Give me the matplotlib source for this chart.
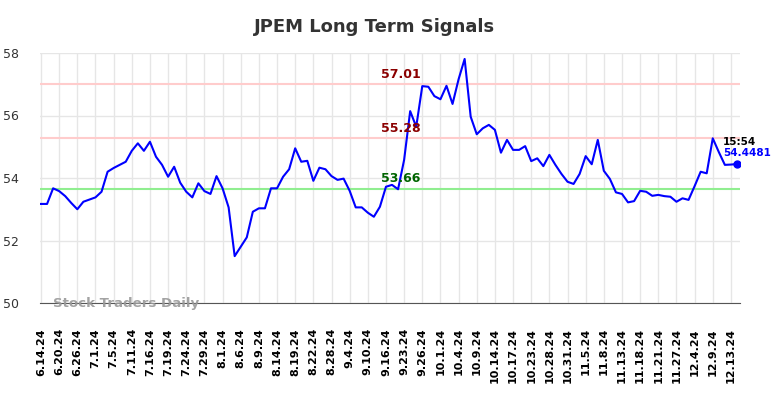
import numpy as np
import matplotlib
matplotlib.use("Agg")
from matplotlib import pyplot as plt

# tick labels, one every 3 data points
tick_labels = ['6.14.24', '6.20.24', '6.26.24', '7.1.24', '7.5.24', '7.11.24', '7.16.24',
               '7.19.24', '7.24.24', '7.29.24', '8.1.24', '8.6.24', '8.9.24', '8.14.24',
               '8.19.24', '8.22.24', '8.28.24', '9.4.24', '9.10.24', '9.16.24', '9.23.24',
               '9.26.24', '10.1.24', '10.4.24', '10.9.24', '10.14.24', '10.17.24', '10.23.24',
               '10.28.24', '10.31.24', '11.5.24', '11.8.24', '11.13.24', '11.18.24', '11.21.24',
               '11.27.24', '12.4.24', '12.9.24', '12.13.24']

prices = [53.17, 53.17, 53.67, 53.58, 53.42, 53.20, 53.00, 53.24, 53.31, 53.38,
          53.56, 54.20, 54.32, 54.42, 54.52, 54.87, 55.11, 54.87, 55.16, 54.68,
          54.42, 54.04, 54.36, 53.85, 53.56, 53.38, 53.83, 53.58, 53.49, 54.06,
          53.67, 53.06, 51.50, 51.80, 52.10, 52.92, 53.03, 53.03, 53.67, 53.67,
          54.04, 54.28, 54.95, 54.52, 54.55, 53.91, 54.33, 54.28, 54.06, 53.94,
          53.98, 53.59, 53.06, 53.06, 52.89, 52.76, 53.08, 53.72, 53.78, 53.64,
          54.58, 56.14, 55.64, 56.94, 56.92, 56.62, 56.52, 56.95, 56.37, 57.16,
          57.81, 55.96, 55.40, 55.59, 55.70, 55.54, 54.81, 55.22, 54.90, 54.90,
          55.02, 54.54, 54.63, 54.38, 54.74, 54.42, 54.13, 53.88, 53.81, 54.13,
          54.70, 54.44, 55.22, 54.23, 53.97, 53.54, 53.49, 53.22, 53.26, 53.59,
          53.56, 53.43, 53.46, 53.42, 53.40, 53.24, 53.35, 53.30, 53.74, 54.20,
          54.15, 55.27, 54.83, 54.42, 54.43, 54.4481]

upper_lines = [57.01, 55.28]
lower_line = 53.66
last_time = '15:54'

x = np.arange(len(prices))

fig = plt.figure(figsize=(7.84, 3.98), dpi=100)
ax = fig.add_axes([39.5/784, 95/398, 700.5/784, 250/398])

ax.plot(x, prices, color='#0000ff', lw=1.5, zorder=3)
ax.plot(x[-1], prices[-1], 'o', color='#0000ff', ms=5, zorder=4)

for v in upper_lines:
    ax.axhline(v, color='#ffcccc', lw=1.5, zorder=2)
    ax.text(59.5, v + 0.1, f'{v:.2f}', color='#8b0000', fontsize=9, fontweight='bold',
            ha='center', va='bottom', zorder=5)
ax.axhline(lower_line, color='#90ee90', lw=1.5, zorder=2)
ax.text(59.5, lower_line + 0.1, f'{lower_line:.2f}', color='#006400', fontsize=9,
        fontweight='bold', ha='center', va='bottom', zorder=5)

ax.text(112.7, prices[-1] + 0.55, last_time, color='black', fontsize=7.5,
        fontweight='bold', ha='left', va='bottom')
ax.text(112.7, prices[-1] + 0.52, f'{prices[-1]:.4f}', color='#0000ff', fontsize=7.5,
        fontweight='bold', ha='left', va='top')

ax.text(2, 50.0, 'Stock Traders Daily', color='#999999', fontsize=9.6,
        fontweight='bold', ha='left', va='center', alpha=0.9)

ax.set_xlim(-0.25, 115.5)
ax.set_ylim(50, 58)
ax.set_yticks([50, 52, 54, 56, 58])
ax.set_xticks(x[::3])
ax.set_xticklabels(tick_labels, rotation=90, fontsize=8, fontweight='bold')
ax.tick_params(axis='y', labelsize=9, colors='#333333', length=0, pad=15)
ax.tick_params(axis='x', length=0, pad=18)
ax.grid(True, color='#e6e6e6', lw=1)
ax.set_axisbelow(True)
for s in ['top', 'right', 'left']:
    ax.spines[s].set_visible(False)
ax.spines['bottom'].set_color('#555555')

fig.text(374.5/784, 1 - 27/398, 'JPEM Long Term Signals', ha='center', va='center',
         fontsize=13, fontweight='bold', color='#333333')

fig.savefig('out.png', dpi=100)
